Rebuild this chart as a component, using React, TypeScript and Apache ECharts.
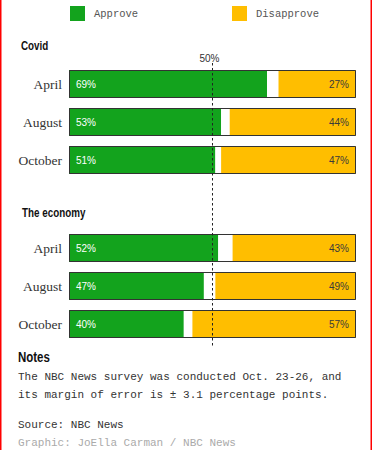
import React, { useEffect, useRef } from "react";
import * as echarts from "echarts";

const months = ["April", "August", "October"];
const covidApprove = [69, 53, 51];
const covidDisapprove = [27, 44, 47];
const economyApprove = [52, 47, 40];
const economyDisapprove = [43, 49, 57];
const sectionTitles = ["Covid", "The economy"];
const legendLabels = ["Approve", "Disapprove"];
const notesTitle = "Notes";
const notesLines = [
  "The NBC News survey was conducted Oct. 23-26, and",
  "its margin of error is \u00b1 3.1 percentage points.",
];
const sourceText = "Source: NBC News";
const creditText = "Graphic: JoElla Carman / NBC News";
const thresholdValue = 50;
const thresholdLabel = "50%";

const GREEN = "#13a31d";
const YELLOW = "#ffbe00";
const BOLD = "'Liberation Sans', Arial, sans-serif";
const MONO = "'Liberation Mono', 'DejaVu Sans Mono', monospace";
const SERIF = "'Liberation Serif', 'DejaVu Serif', serif";
const SANS = "'Liberation Sans', Arial, sans-serif";

export default function App() {
  const ref = useRef<HTMLDivElement>(null);

  useEffect(() => {
    if (!ref.current) return;
    const chart = echarts.init(ref.current, undefined, { renderer: "svg" });

    const groups = [
      { approve: covidApprove, disapprove: covidDisapprove },
      { approve: economyApprove, disapprove: economyDisapprove },
    ];
    const gridTops = [65, 229];

    const series: any[] = [];
    groups.forEach((g, i) => {
      const common = {
        type: "bar",
        xAxisIndex: i,
        yAxisIndex: i,
        barWidth: 28,
        barGap: "-100%",
        silent: true,
      };
      series.push({
        ...common,
        name: legendLabels[0],
        stack: "s" + i,
        data: g.approve,
        itemStyle: { color: GREEN },
        label: {
          show: true,
          position: "insideLeft",
          distance: 7,
          color: "#ffffff",
          fontFamily: SANS,
          fontSize: 10,
          formatter: "{c}%",
        },
      });
      series.push({
        ...common,
        name: "Other",
        stack: "s" + i,
        data: g.approve.map((a, k) => 100 - a - g.disapprove[k]),
        itemStyle: { color: "#ffffff" },
      });
      series.push({
        ...common,
        name: legendLabels[1],
        stack: "s" + i,
        data: g.disapprove,
        itemStyle: { color: YELLOW },
        label: {
          show: true,
          position: "insideRight",
          distance: 7,
          color: "#3a3a3a",
          fontFamily: SANS,
          fontSize: 10,
          formatter: "{c}%",
        },
      });
      series.push({
        ...common,
        name: "outline",
        data: g.approve.map(() => 100),
        z: 5,
        itemStyle: { color: "rgba(0,0,0,0)", borderColor: "#333333", borderWidth: 1 },
      });
    });

    const option: any = {
      animation: false,
      backgroundColor: "#ffffff",
      legend: [
        {
          left: 70,
          top: 6,
          padding: 0,
          icon: "rect",
          itemWidth: 15,
          itemHeight: 15,
          selectedMode: false,
          data: [legendLabels[0]],
          textStyle: { fontFamily: MONO, fontSize: 10.5, color: "#555", padding: [0, 0, 0, 4] },
        },
        {
          left: 232,
          top: 6,
          padding: 0,
          icon: "rect",
          itemWidth: 15,
          itemHeight: 15,
          selectedMode: false,
          data: [legendLabels[1]],
          textStyle: { fontFamily: MONO, fontSize: 10.5, color: "#555", padding: [0, 0, 0, 4] },
        },
      ],
      grid: gridTops.map((t) => ({ left: 69, top: t, width: 287, height: 114 })),
      xAxis: gridTops.map((_, i) => ({
        type: "value",
        gridIndex: i,
        min: 0,
        max: 100,
        show: false,
      })),
      yAxis: gridTops.map((_, i) => ({
        type: "category",
        gridIndex: i,
        inverse: true,
        data: months,
        axisLine: { show: false },
        axisTick: { show: false },
        axisLabel: { fontFamily: SERIF, fontSize: 13.5, color: "#333", margin: 7 },
      })),
      series,
    };
    chart.setOption(option);

    const px = chart.convertToPixel({ xAxisIndex: 0 }, thresholdValue) as number;

    const graphic: any[] = [
      { type: "rect", shape: { x: 0, y: 0, width: 1.5, height: 450 }, style: { fill: "#ff0000" } },
      { type: "rect", shape: { x: 370.5, y: 0, width: 1.5, height: 450 }, style: { fill: "#ff0000" } },
      {
        type: "text",
        x: 21,
        y: 45.5,
        scaleX: 0.82,
        style: { text: sectionTitles[0], font: `bold 12px ${BOLD}`, fill: "#111", verticalAlign: "middle" },
      },
      {
        type: "text",
        x: 22,
        y: 212.5,
        scaleX: 0.82,
        style: { text: sectionTitles[1], font: `bold 12px ${BOLD}`, fill: "#111", verticalAlign: "middle" },
      },
      {
        type: "line",
        z: 100,
        shape: { x1: px, y1: 63, x2: px, y2: 347 },
        style: { stroke: "#222", lineWidth: 1, lineDash: [2.5, 2.5] },
      },
      {
        type: "text",
        x: px - 3,
        y: 58.5,
        style: { text: thresholdLabel, font: `10px ${SANS}`, fill: "#333", align: "center", verticalAlign: "middle" },
      },
      {
        type: "text",
        x: 18,
        y: 357,
        scaleX: 0.82,
        style: { text: notesTitle, font: `bold 14px ${BOLD}`, fill: "#111", verticalAlign: "middle" },
      },
      {
        type: "text",
        x: 18,
        y: 377,
        style: { text: notesLines[0], font: `11px ${MONO}`, fill: "#333", verticalAlign: "middle" },
      },
      {
        type: "text",
        x: 18,
        y: 395,
        style: { text: notesLines[1], font: `11px ${MONO}`, fill: "#333", verticalAlign: "middle" },
      },
      {
        type: "text",
        x: 18,
        y: 425,
        style: { text: sourceText, font: `11px ${MONO}`, fill: "#333", verticalAlign: "middle" },
      },
      {
        type: "text",
        x: 18,
        y: 443,
        style: { text: creditText, font: `11px ${MONO}`, fill: "#aaa", verticalAlign: "middle" },
      },
    ];
    chart.setOption({ graphic });

    return () => chart.dispose();
  }, []);

  return (
    <div
      ref={ref}
      style={{ position: "fixed", left: 0, top: 0, width: 372, height: 450 }}
    />
  );
}
